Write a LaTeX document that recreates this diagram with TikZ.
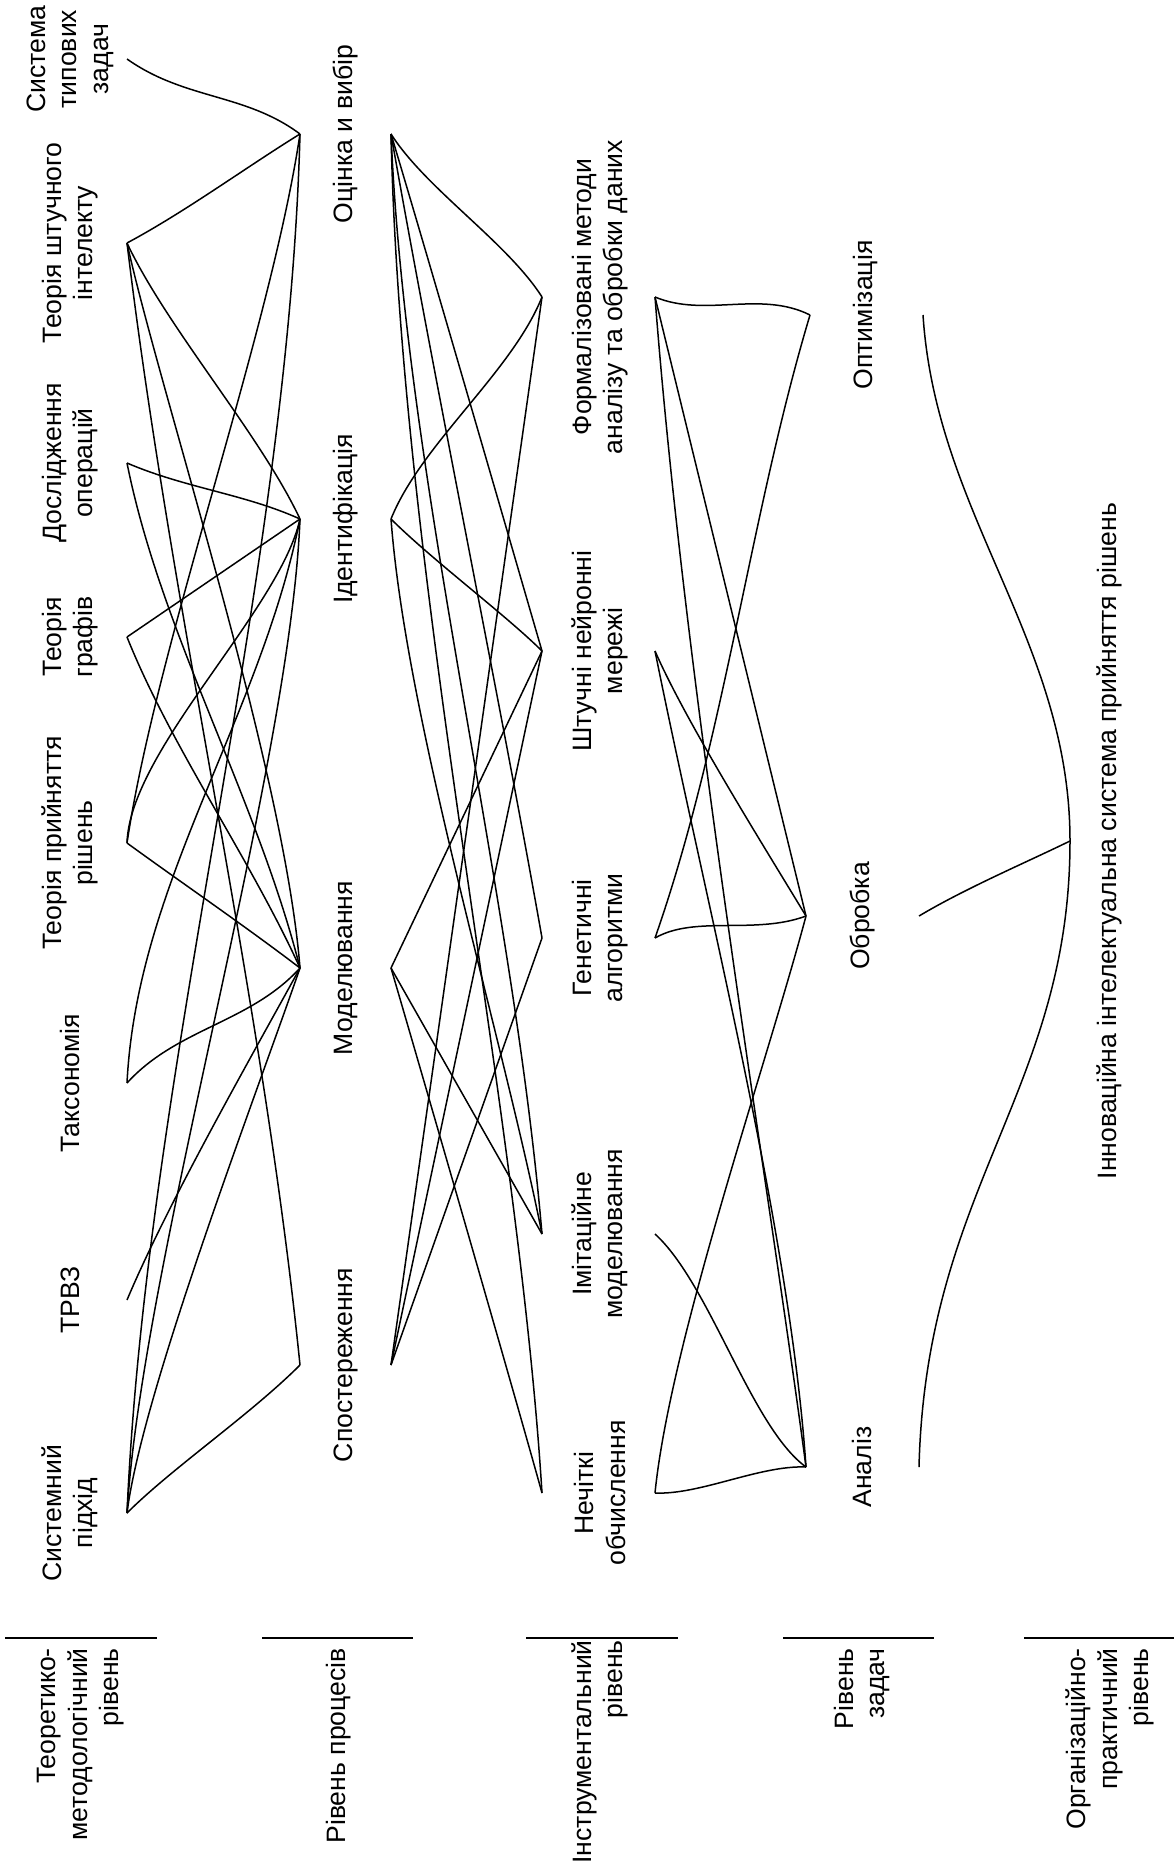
\documentclass[tikz,border=0pt]{standalone}
\usepackage{fontspec}
\setmainfont{Liberation Sans}
\begin{document}
\begin{tikzpicture}[x=1pt,y=-1pt,
  lbl/.style={font=\fontsize{26.6}{31.5}\selectfont, rotate=90, inner sep=0pt, align=center},
  lvl/.style={font=\fontsize{26.6}{31.5}\selectfont, rotate=90, inner sep=0pt, align=right, anchor=east},
  con/.style={line width=1.5pt, line join=round},
  sepline/.style={line width=1.5pt}]
\fill[white] (0,0) rectangle (1174,1868);
\useasboundingbox (0,0) rectangle (1174,1868);

% ---------- connector end points ----------
% column 1 (theory)
\coordinate (sys)  at (127,59);
\coordinate (tai)  at (127,243);
\coordinate (do)   at (127,463);
\coordinate (tg)   at (127,637);
\coordinate (tpr)  at (127,843);
\coordinate (tax)  at (127,1083);
\coordinate (trvz) at (127,1300);
\coordinate (sp)   at (127,1513);
% column 2 (processes)
\coordinate (ocL) at (300,134);  \coordinate (ocR) at (391,134);
\coordinate (idL) at (300,519);  \coordinate (idR) at (391,519);
\coordinate (moL) at (300,968);  \coordinate (moR) at (391,968);
\coordinate (spoL) at (300,1365); \coordinate (spoR) at (391,1365);
% column 3 (instruments)
\coordinate (foL) at (542,297);  \coordinate (foR) at (655,297);
\coordinate (nnL) at (542,651);  \coordinate (nnR) at (655,651);
\coordinate (gaL) at (542,938);  \coordinate (gaR) at (655,938);
\coordinate (imL) at (542,1234); \coordinate (imR) at (655,1234);
\coordinate (ncL) at (542,1493); \coordinate (ncR) at (655,1493);
% column 4 (tasks)
\coordinate (optL) at (810,315);  \coordinate (optR) at (923,315);
\coordinate (obL)  at (806,916);  \coordinate (obR)  at (919,916);
\coordinate (anL)  at (806,1467); \coordinate (anR)  at (919,1467);
% column 5
\coordinate (sysC) at (1070,841);

% ---------- labels ----------
\node[lbl] (nsys)  at (70,59)   {Система\\типових\\задач};
\node[lbl] (ntai)  at (70,243)  {Теорія штучного\\інтелекту};
\node[lbl] (ndo)   at (70,463)  {Дослідження\\операцій};
\node[lbl] (ntg)   at (70,637)  {Теорія\\графів};
\node[lbl] (ntpr)  at (70,843)  {Теорія прийняття\\рішень};
\node[lbl] (ntax)  at (70,1083) {Таксономія};
\node[lbl] (ntrvz) at (70,1300) {ТРВЗ};
\node[lbl] (nsp)   at (70,1513) {Системний\\підхід};

\node[lbl] (noc)  at (346,134)  {Оцінка и вибір};
\node[lbl] (nid)  at (346,519)  {Ідентифікація};
\node[lbl] (nmo)  at (346,968)  {Моделювання};
\node[lbl] (nspo) at (346,1365) {Спостереження};

\node[lbl] (nfo) at (600,297)  {Формалізовані методи\\аналізу та обробки даних};
\node[lbl] (nnn) at (600,651)  {Штучні нейронні\\мережі};
\node[lbl] (nga) at (600,938)  {Генетичні\\алгоритми};
\node[lbl] (nim) at (600,1234) {Імітаційне\\моделювання};
\node[lbl] (nnc) at (600,1493) {Нечіткі\\обчислення};

\node[lbl] (nopt) at (866,315)  {Оптимізація};
\node[lbl] (nob)  at (862,916)  {Обробка};
\node[lbl] (nan)  at (862,1467) {Аналіз};

\node[lbl] (nsysC) at (1109,841) {Інноваційна інтелектуальна система прийняття рішень};

% ---------- level separators and titles ----------
\draw[sepline] (5,1638) -- (157,1638);
\draw[sepline] (262,1638) -- (413,1638);
\draw[sepline] (526,1638) -- (678,1638);
\draw[sepline] (783,1638) -- (934,1638);
\draw[sepline] (1024,1638) -- (1174,1638);

\node[lvl] (lv1) at (81,1648)   {Теоретико-\\методологічний\\рівень};
\node[lvl] (lv2) at (339,1648)  {Рівень процесів};
\node[lvl] (lv3) at (600,1640)  {Інструментальний\\рівень};
\node[lvl] (lv4) at (862,1648)  {Рівень\\задач};
\node[lvl] (lv5) at (1110,1648) {Організаційно-\\практичний\\рівень};

% ---------- region A: theory -> processes ----------
\draw[con] (sys) .. controls (185,100) and (245,93) .. (ocL);
\draw[con] (tai) .. controls (185,212) and (245,168) .. (ocL);
\draw[con] (tai) .. controls (167,328) and (260,434) .. (idL);
\draw[con] (tai) .. controls (160,393) and (284,768) .. (moL);
\draw[con] (tai) .. controls (172,617) and (262,991) .. (spoL);
\draw[con] (do)  .. controls (185,488) and (245,494) .. (idL);
\draw[con] (do)  .. controls (161,633) and (257,798) .. (moL);
\draw[con] (tg) -- (idL);
\draw[con] (tg)  .. controls (171,747) and (250,858) .. (moL);
\draw[con] (tpr) .. controls (157,643) and (270,334) .. (ocL);
\draw[con] (idL) .. controls (280,610) and (130,750) .. (tpr);
\draw[con] (tpr) .. controls (182,883) and (245,926) .. (moL);
\draw[con] (tax) .. controls (177,1028) and (250,1023) .. (moL);
\draw[con] (tax) .. controls (137,883) and (260,719) .. (idL);
\draw[con] (trvz) .. controls (167,1205) and (245,1068) .. (moL);
\draw[con] (sp) .. controls (147,1063) and (288,584) .. (ocL);
\draw[con] (sp) .. controls (142,1263) and (290,769) .. (idL);
\draw[con] (sp) .. controls (142,1393) and (255,1098) .. (moL);
\draw[con] (sp) .. controls (172,1468) and (250,1415) .. (spoL);

% ---------- region B: processes -> instruments ----------
\draw[con] (ocR) .. controls (426,189) and (507,242) .. (foL);
\draw[con] (ocR) .. controls (430,264) and (510,541) .. (nnL);
\draw[con] (ocR) .. controls (436,390) and (500,700) .. (gaL);
\draw[con] (ocR) .. controls (406,484) and (512,884) .. (imL);
\draw[con] (ocR) .. controls (401,584) and (517,1093) .. (ncL);
\draw[con] (idR) .. controls (421,444) and (512,372) .. (foL);
\draw[con] (idR) .. controls (431,559) and (507,616) .. (nnL);
\draw[con] (idR) .. controls (406,719) and (502,1034) .. (imL);
\draw[con] (moR) -- (nnL);
\draw[con] (moR) -- (imL);
\draw[con] (moR) .. controls (418,1060) and (512,1385) .. (ncL);
\draw[con] (spoR) -- (foL);
\draw[con] (spoR) -- (nnL);
\draw[con] (spoR) -- (gaL);

% ---------- region C: instruments -> tasks ----------
\draw[con] (foR) .. controls (705,318) and (760,290) .. (optL);
\draw[con] (foR) .. controls (685,687) and (766,1167) .. (anL);
\draw[con] (foR) -- (obL);
\draw[con] (optL) .. controls (750,515) and (725,738) .. (gaR);
\draw[con] (nnR) .. controls (685,720) and (760,840) .. (obL);
\draw[con] (gaR) .. controls (695,915) and (755,935) .. (obL);
\draw[con] (obL) .. controls (766,1066) and (670,1343) .. (ncR);
\draw[con] (imR) .. controls (710,1284) and (751,1427) .. (anL);
\draw[con] (ncR) .. controls (700,1495) and (760,1465) .. (anL);
\draw[con] (nnR) .. controls (705,900) and (790,1230) .. (anL);

% ---------- region D: tasks -> system ----------
\draw[con] (optR) .. controls (936,515) and (1070,641) .. (sysC);
\draw[con] (obR) .. controls (966,888) and (1025,863) .. (sysC);
\draw[con] (anR) .. controls (926,1187) and (1070,1091) .. (sysC);
\end{tikzpicture}
\end{document}
